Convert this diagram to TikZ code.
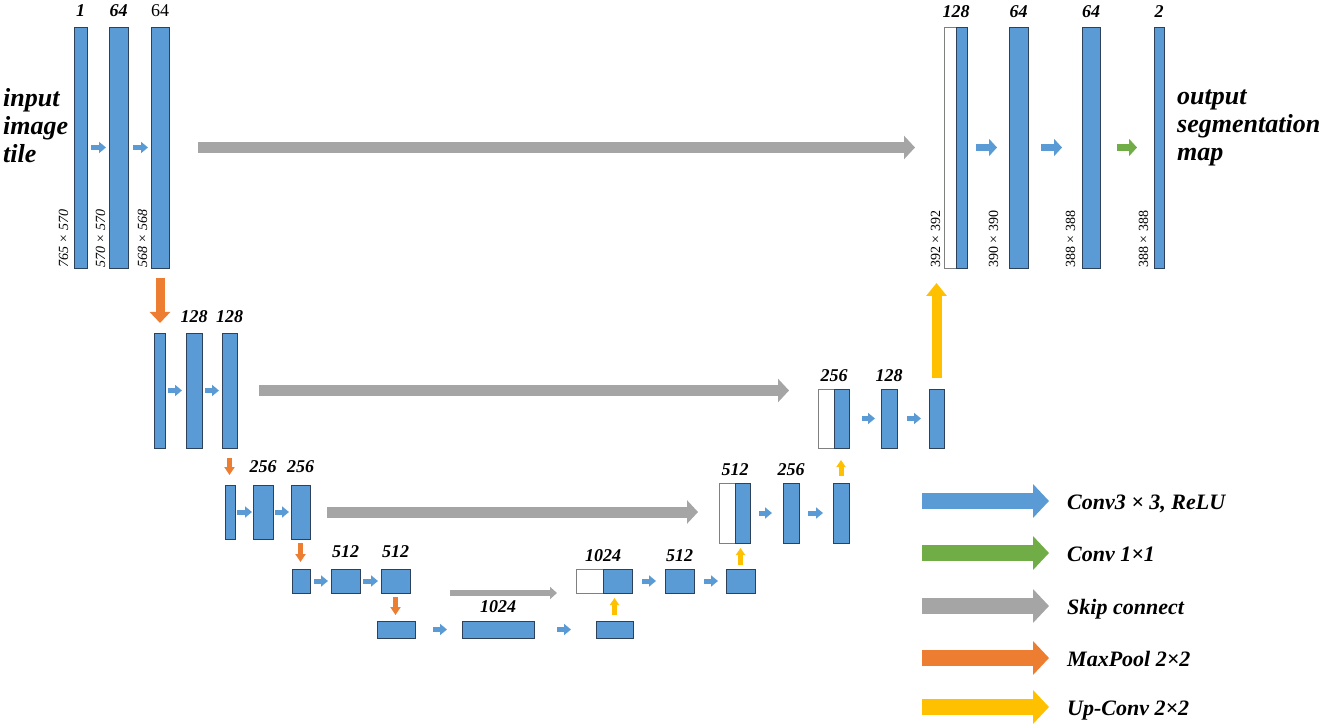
\documentclass[tikz,border=0pt]{standalone}
\usepackage{fontspec}
\setmainfont{Liberation Serif}
\usetikzlibrary{arrows.meta,positioning}
\definecolor{cblue}{RGB}{91,155,213}
\definecolor{cgreen}{RGB}{112,173,71}
\definecolor{cgray}{RGB}{165,165,165}
\definecolor{corange}{RGB}{237,125,49}
\definecolor{cyellow}{RGB}{255,192,0}
\definecolor{cedge}{RGB}{45,65,90}
\tikzset{
  blk/.style={draw=cedge, fill=cblue, line width=0.9pt, inner sep=0, outer sep=0},
  wblk/.style={draw=gray, fill=white, line width=0.9pt, inner sep=0, outer sep=0},
  sz/.style 2 args={minimum width=#1pt, minimum height=#2pt},
  fat/.style n args={3}{line width=#1pt, -{Triangle[width=#2pt, length=#3pt]}},
  gap/.style 2 args={shorten <=#1pt, shorten >=#2pt},
  cv/.style={cblue, fat={5}{11}{7}},
  cvb/.style={cblue, fat={7}{17}{8}},
  one/.style={cgreen, fat={7}{17}{8}},
  skip/.style={cgray, fat={11}{23}{11}},
  skips/.style={cgray, fat={6}{12}{7}},
  pool/.style={corange, fat={9}{20}{11}},
  pools/.style={corange, fat={5}{10}{8}},
  upc/.style={cyellow, fat={10}{20}{13}},
  upcs/.style={cyellow, fat={5}{9}{7}},
  key/.style={fat={16}{33}{16}},
  num/.style={font=\fontsize{18}{20}\selectfont\bfseries\itshape, inner sep=0},
  dim/.style={font=\fontsize{14}{16}\selectfont, inner sep=0, rotate=90, anchor=base west},
  big/.style={font=\fontsize{26}{28}\selectfont\bfseries\itshape, align=left, inner sep=0},
  keytxt/.style={font=\fontsize{22}{24}\selectfont\bfseries\itshape, inner sep=0}
}
\begin{document}
\begin{tikzpicture}[x=1pt, y=-1pt]
\useasboundingbox (0,0) rectangle (1325,727);
% contracting path
\node[blk, sz={13}{241}] (e1a) at (80.5,147.5) {};
\node[blk, sz={19}{241}] (e1b) at (118.5,147.5) {};
\node[blk, sz={18}{241}] (e1c) at (160,147.5) {};
\node[blk, sz={11}{115}] (e2a) at (159.5,390.5) {};
\node[blk, sz={16}{115}] (e2b) at (194,390.5) {};
\node[blk, sz={15}{115}] (e2c) at (229.5,390.5) {};
\node[blk, sz={10}{54}] (e3a) at (230,512) {};
\node[blk, sz={20}{54}] (e3b) at (263,512) {};
\node[blk, sz={19}{54}] (e3c) at (300.5,512) {};
\node[blk, sz={18}{24}] (e4a) at (301,581) {};
\node[blk, sz={29}{24}] (e4b) at (345.5,581) {};
\node[blk, sz={29}{24}] (e4c) at (395.5,581) {};
\node[blk, sz={38}{17}] (m5a) at (396,629.5) {};
\node[blk, sz={72}{17}] (m5b) at (498,629.5) {};
\node[blk, sz={37}{17}] (m5c) at (614.5,629.5) {};
% expanding path
\node[wblk, sz={27}{24}] (d4w) at (589.5,581) {};
\node[blk, sz={29}{24}] (d4b) at (617.5,581) {};
\node[blk, sz={29}{24}] (d4c) at (679.5,581) {};
\node[blk, sz={29}{24}] (d4d) at (740.5,581) {};
\node[wblk, sz={16}{60}] (d3w) at (727,513) {};
\node[blk, sz={15}{60}] (d3b) at (742.5,513) {};
\node[blk, sz={16}{60}] (d3c) at (791,513) {};
\node[blk, sz={16}{60}] (d3d) at (841,513) {};
\node[wblk, sz={16}{59}] (d2w) at (826,418.5) {};
\node[blk, sz={15}{59}] (d2b) at (841.5,418.5) {};
\node[blk, sz={16}{59}] (d2c) at (889,418.5) {};
\node[blk, sz={15}{59}] (d2d) at (936.5,418.5) {};
\node[wblk, sz={12}{241}] (d1w) at (950,147.5) {};
\node[blk, sz={11}{241}] (d1b) at (961.5,147.5) {};
\node[blk, sz={19}{241}] (d1c) at (1018.5,147.5) {};
\node[blk, sz={18}{241}] (d1d) at (1091,147.5) {};
\node[blk, sz={10}{241}] (d1e) at (1159,147.5) {};
% channel numbers
\node[num, above=10pt of e1a] (n1a) {1};
\node[num, above=10pt of e1b] (n1b) {64};
\node[num, above=10pt of e1c, font=\fontsize{18}{20}\selectfont] (n1c) {64};
\node[num, above=10pt of e2b] (n2b) {128};
\node[num, above=10pt of e2c] (n2c) {128};
\node[num, above=12pt of e3b] (n3b) {256};
\node[num, above=12pt of e3c] (n3c) {256};
\node[num, above=11pt of e4b] (n4b) {512};
\node[num, above=11pt of e4c] (n4c) {512};
\node[num, above=8pt of m5b] (n5b) {1024};
\node[num, above=7pt of d4w.north east] (u4b) {1024};
\node[num, above=7pt of d4c] (u4c) {512};
\node[num, above=7pt of d3w.north east] (u3b) {512};
\node[num, above=7pt of d3c] (u3c) {256};
\node[num, above=7pt of d2w.north east] (u2b) {256};
\node[num, above=7pt of d2c] (u2c) {128};
\node[num, above=9pt of d1w.north east] (u1b) {128};
\node[num, above=9pt of d1c] (u1c) {64};
\node[num, above=9pt of d1d] (u1d) {64};
\node[num, above=9pt of d1e] (u1e) {2};
% sizes
\node[dim, font=\fontsize{14}{16}\selectfont\itshape] (s1a) at ([xshift=-6pt]e1a.south west) {765 × 570};
\node[dim, font=\fontsize{14}{16}\selectfont\itshape] (s1b) at ([xshift=-4pt]e1b.south west) {570 × 570};
\node[dim, font=\fontsize{14}{16}\selectfont\itshape] (s1c) at ([xshift=-4pt]e1c.south west) {568 × 568};
\node[dim] (r1b) at ([xshift=-4pt]d1w.south west) {392 × 392};
\node[dim] (r1c) at ([xshift=-11pt]d1c.south west) {390 × 390};
\node[dim] (r1d) at ([xshift=-7pt]d1d.south west) {388 × 388};
\node[dim] (r1e) at ([xshift=-6pt]d1e.south west) {388 × 388};
\node[big, anchor=west] (inp) at (3,126) {input\\image\\tile};
\node[big, anchor=west] (outp) at (1177,127.5) {output\\segmentation\\map};
% conv arrows
\draw[cv, gap={4}{3}] (e1a) -- (e1b);
\draw[cv, gap={5}{3}] (e1b) -- (e1c);
\draw[cv, gap={3}{4}] (e2a) -- (e2b);
\draw[cv, gap={3}{3}] (e2b) -- (e2c);
\draw[cv, gap={2}{1}] (e3a) -- (e3b);
\draw[cv, gap={2}{2}] (e3b) -- (e3c);
\draw[cv, gap={4}{3}] (e4a) -- (e4b);
\draw[cv, gap={3}{3}] (e4b) -- (e4c);
\draw[cv, gap={18}{15}] (m5a) -- (m5b);
\draw[cv, gap={23}{25}] (m5b) -- (m5c);
\draw[cv, gap={10}{9}] (d4b) -- (d4c);
\draw[cv, gap={10}{8}] (d4c) -- (d4d);
\draw[cv, gap={9}{11}] (d3b) -- (d3c);
\draw[cv, gap={9}{10}] (d3c) -- (d3d);
\draw[cv, gap={13}{6}] (d2b) -- (d2c);
\draw[cv, gap={10}{8}] (d2c) -- (d2d);
\draw[cvb, gap={9}{12}] (d1b) -- (d1c);
\draw[cvb, gap={13}{20}] (d1c) -- (d1d);
\draw[one, gap={17}{17}] (d1d) -- (d1e);
% skip connections
\draw[skip, gap={29}{29}] (e1c) -- (d1w);
\draw[skip, gap={22}{29}] (e2c.east) -- (e2c.east -| d2w.west);
\draw[skip, gap={17}{21}] (e3c.east) -- (e3c.east -| d3w.west);
\draw[skips, gap={40}{19}] (e4c.south east) -- (e4c.south east -| d4w.west);
% max pooling
\draw[pool, gap={10}{10}] (e1c.south) -- (e1c.south |- e2a.north);
\draw[pools, gap={10}{10}] (e2c.south) -- (e2c.south |- e3a.north);
\draw[pools, gap={4}{7}] (e3c.south) -- (e3c.south |- e4a.north);
\draw[pools, gap={4}{6}] (e4c.south) -- (e4c.south |- m5a.north);
% up-convolutions
\draw[upcs, gap={6}{5}] (m5c.north) -- (m5c.north |- d4b.south);
\draw[upcs, gap={4}{5}] (d4d.north) -- (d4d.north |- d3b.south);
\draw[upcs, gap={7}{12}] (d3d.north) -- (d3d.north |- d2b.south);
\draw[upc, gap={11}{15}] (d2d.north) -- (d2d.north |- d1b.south);
% legend
\foreach \y/\c/\t [count=\i] in {501/cblue/{Conv3 × 3, ReLU}, 553/cgreen/{Conv 1×1}, 606/cgray/{Skip connect}, 658/corange/{MaxPool 2×2}, 707/cyellow/{Up-Conv 2×2}}{
  \coordinate (k\i) at (922,\y);
  \node[keytxt, anchor=base west] (t\i) at (1067,\y+8) {\t};
  \draw[key, \c, shorten >=18pt] (k\i) -- (k\i -| t\i.west);
}
\end{tikzpicture}
\end{document}
